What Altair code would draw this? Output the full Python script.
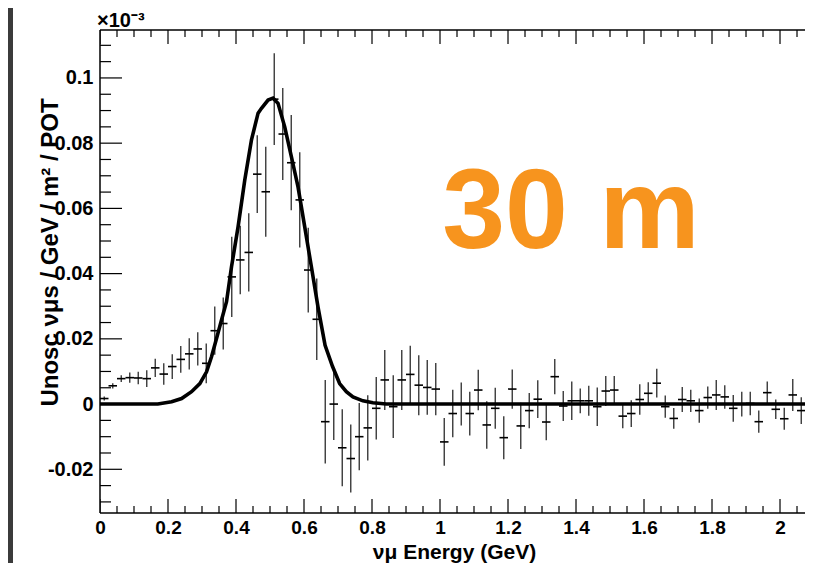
import altair as alt
import pandas as pd

# ---------------- data (units of 1e-3) ----------------
bin_width = 0.025
values = [0.0017, 0.0056, 0.0078, 0.0081, 0.0080, 0.0078, 0.0111, 0.0092, 0.0115, 0.0137,
          0.0154, 0.0169, 0.0125, 0.0225, 0.0247, 0.0390, 0.0442, 0.0465, 0.0705, 0.0651,
          0.0935, 0.0828, 0.0740, 0.0626, 0.0411, 0.0260, -0.0054, 0.0000, -0.0134, -0.0167,
          -0.0100, -0.0073, -0.0013, 0.0074, -0.0008, 0.0074, 0.0091, 0.0058, 0.0051, 0.0046,
          -0.0116, -0.0029, 0.0000, -0.0029, 0.0043, -0.0064, -0.0013, -0.0103, 0.0046, -0.0067,
          -0.0020, 0.0015, -0.0055, 0.0084, -0.0006, 0.0010, 0.0010, 0.0010, -0.0008, 0.0040,
          0.0043, -0.0037, -0.0029, 0.0014, 0.0033, 0.0064, -0.0008, -0.0044, 0.0014, 0.0010,
          -0.0020, 0.0020, 0.0028, 0.0022, -0.0013, 0.0000, 0.0002, -0.0054, 0.0035, -0.0016,
          -0.0045, 0.0028, -0.0020, -0.0047]
errors = [0.0006, 0.0008, 0.0010, 0.0016, 0.0019, 0.0026, 0.0028, 0.0033, 0.0038, 0.0041,
          0.0048, 0.0051, 0.0061, 0.0074, 0.0080, 0.0123, 0.0105, 0.0120, 0.0119, 0.0138,
          0.0141, 0.0141, 0.0146, 0.0146, 0.0130, 0.0125, 0.0128, 0.0110, 0.0118, 0.0104,
          0.0103, 0.0100, 0.0096, 0.0092, 0.0096, 0.0092, 0.0088, 0.0092, 0.0084, 0.0080,
          0.0073, 0.0073, 0.0066, 0.0067, 0.0062, 0.0073, 0.0063, 0.0066, 0.0060, 0.0071,
          0.0054, 0.0058, 0.0056, 0.0054, 0.0046, 0.0059, 0.0038, 0.0046, 0.0059, 0.0046,
          0.0043, 0.0037, 0.0041, 0.0047, 0.0034, 0.0044, 0.0034, 0.0032, 0.0038, 0.0034,
          0.0037, 0.0034, 0.0046, 0.0036, 0.0041, 0.0038, 0.0036, 0.0034, 0.0034, 0.0030,
          0.0034, 0.0049, 0.0041, 0.0038]

curve_E = [0.0, 0.17, 0.2106, 0.24, 0.2693, 0.2937, 0.3134, 0.328, 0.3427, 0.3574, 0.3721,
           0.3868, 0.4062, 0.4258, 0.4455, 0.4649, 0.4749, 0.4943, 0.509, 0.5236, 0.5433,
           0.563, 0.5824, 0.602, 0.6217, 0.6411, 0.662, 0.684, 0.7048, 0.7245, 0.7439,
           0.7733, 0.8026, 0.842, 2.1]
curve_v = [0.0, 0.0, 0.0007, 0.0017, 0.0038, 0.0063, 0.0099, 0.0145, 0.0201, 0.0258, 0.0314,
           0.0421, 0.0544, 0.0687, 0.0810, 0.0892, 0.0907, 0.0932, 0.0938, 0.0922, 0.0850,
           0.0758, 0.0666, 0.0544, 0.0421, 0.0298, 0.0180, 0.0115, 0.0063, 0.0038, 0.0022,
           0.0010, 0.0004, 0.0, 0.0]

x_major = [0.0, 0.2, 0.4, 0.6, 0.8, 1.0, 1.2, 1.4, 1.6, 1.8, 2.0]
x_minor = [0.05, 0.1, 0.15, 0.25, 0.3, 0.35, 0.45, 0.5, 0.55, 0.65, 0.7, 0.75, 0.85, 0.9, 0.95,
           1.05, 1.1, 1.15, 1.25, 1.3, 1.35, 1.45, 1.5, 1.55, 1.65, 1.7, 1.75, 1.85, 1.9, 1.95,
           2.05]
y_major = [-0.02, 0.0, 0.02, 0.04, 0.06, 0.08, 0.1]
y_minor = [-0.03, -0.025, -0.015, -0.01, -0.005, 0.005, 0.01, 0.015, 0.025, 0.03, 0.035,
           0.045, 0.05, 0.055, 0.065, 0.07, 0.075, 0.085, 0.09, 0.095, 0.105, 0.11]

# the picture is cut at the right, a little before the frame's right edge (2.1 GeV)
x_domain = [0.0, 2.0735]
y_domain = [-0.0334, 0.1147]

x_title = "νμ Energy (GeV)"
y_title = "Unosc νμs / GeV / m² / POT"
exponent_text = "×10⁻³"
big_label = ["30 m"]
big_label_pos = [1.385, 0.0478]

# ---------------- tables ----------------
centers = [round(bin_width * (i + 0.5), 5) for i in range(len(values))]
df = pd.DataFrame({
    "E": centers,
    "left": [c - bin_width / 2 for c in centers],
    "right": [c + bin_width / 2 for c in centers],
    "v": values,
    "lo": [v - e for v, e in zip(values, errors)],
    "hi": [v + e for v, e in zip(values, errors)],
})
cdf = pd.DataFrame({"E": curve_E, "v": curve_v})

W, H = 705, 483
SANS = "Liberation Sans, Arial, sans-serif"

xs = alt.Scale(domain=x_domain, nice=False, zero=False)
ys = alt.Scale(domain=y_domain, nice=False, zero=False)

xaxis = alt.Axis(values=x_major, ticks=False, tickSize=0, domain=False, grid=False,
                 labelFont=SANS, labelFontWeight="bold", labelFontSize=19,
                 labelColor="black", labelPadding=5, labelFlush=False,
                 labelExpr="format(datum.value, '~g')",
                 titleFont=SANS, titleFontWeight="bold", titleFontSize=21,
                 titleColor="black", titleBaseline="alphabetic", titleY=45, titleX=354)
yaxis = alt.Axis(values=y_major, ticks=False, tickSize=0, domain=False, grid=False,
                 labelFont=SANS, labelFontWeight="bold", labelFontSize=20,
                 labelColor="black", labelPadding=7, labelFlush=False,
                 labelExpr="datum.value == 0 ? '0' : (datum.value < 0 ? '-' + format(-datum.value, '~g') : format(datum.value, '~g'))",
                 titleFont=SANS, titleFontWeight="bold", titleFontSize=24,
                 titleColor="black", titleAngle=270, titleBaseline="middle",
                 titleAlign="center", titleX=-50, titleY=222)


def X(field):
    return alt.X(field, scale=xs, axis=xaxis, title=x_title)


def Y(field):
    return alt.Y(field, scale=ys, axis=yaxis, title=y_title)


vbars = alt.Chart(df).mark_rule(color="#3a3a3a", strokeWidth=1.4, clip=True).encode(
    x=X("E:Q"), y=Y("lo:Q"), y2="hi:Q")
hbars = alt.Chart(df).mark_rule(color="black", strokeWidth=1.6, clip=True).encode(
    x=X("left:Q"), x2="right:Q", y=Y("v:Q"))
curve = alt.Chart(cdf).mark_line(color="black", strokeWidth=3.6, clip=True).encode(
    x=X("E:Q"), y=Y("v:Q"))


def xticks(vals, length, top):
    d = pd.DataFrame({"E": vals})
    y0 = 0 if top else H
    y1 = length if top else H - length
    return alt.Chart(d).mark_rule(color="black", strokeWidth=1.2, clip=True).encode(
        x=X("E:Q"), y=alt.value(y0), y2=alt.value(y1))


def yticks(vals, length):
    d = pd.DataFrame({"v": vals})
    return alt.Chart(d).mark_rule(color="black", strokeWidth=1.2, clip=True).encode(
        y=Y("v:Q"), x=alt.value(0), x2=alt.value(length))


tick_layers = [
    xticks(x_major, 14, False), xticks(x_minor, 7, False),
    xticks(x_major, 14, True), xticks(x_minor, 7, True),
    yticks(y_major, 22), yticks(y_minor, 11),
]

one = pd.DataFrame({"a": [0]})
frame = [
    alt.Chart(one).mark_rule(color="black", strokeWidth=1.5).encode(
        x=alt.value(0), y=alt.value(0), y2=alt.value(H)),
    alt.Chart(one).mark_rule(color="black", strokeWidth=1.5).encode(
        x=alt.value(0), x2=alt.value(W), y=alt.value(0)),
    alt.Chart(one).mark_rule(color="black", strokeWidth=1.5).encode(
        x=alt.value(0), x2=alt.value(W), y=alt.value(H)),
]

big = alt.Chart(pd.DataFrame({"E": [big_label_pos[0]], "v": [big_label_pos[1]], "t": big_label})).mark_text(
    font=SANS, fontWeight="bold", fontSize=113, color="#F7941E",
    align="center", baseline="alphabetic").encode(
    x=X("E:Q"), y=Y("v:Q"), text="t:N")

expo = alt.Chart(pd.DataFrame({"t": [exponent_text]})).mark_text(
    font=SANS, fontWeight="bold", fontSize=20, color="black",
    align="left", baseline="alphabetic").encode(
    x=alt.value(-3), y=alt.value(-3), text="t:N")

strip = alt.Chart(one).mark_rect(color="#3b3b3b").encode(
    x=alt.value(-92), x2=alt.value(-87), y=alt.value(-22), y2=alt.value(H + 50))

chart = alt.layer(vbars, hbars, curve, *tick_layers, *frame, big, expo, strip).properties(
    width=W, height=H,
    padding={"left": 92, "top": 22, "right": 0, "bottom": 50},
    autosize=alt.AutoSizeParams(type="none"),
    background="white",
).configure_view(strokeWidth=0)

chart.save("out.html", embed_options={"renderer": "svg", "actions": False})
